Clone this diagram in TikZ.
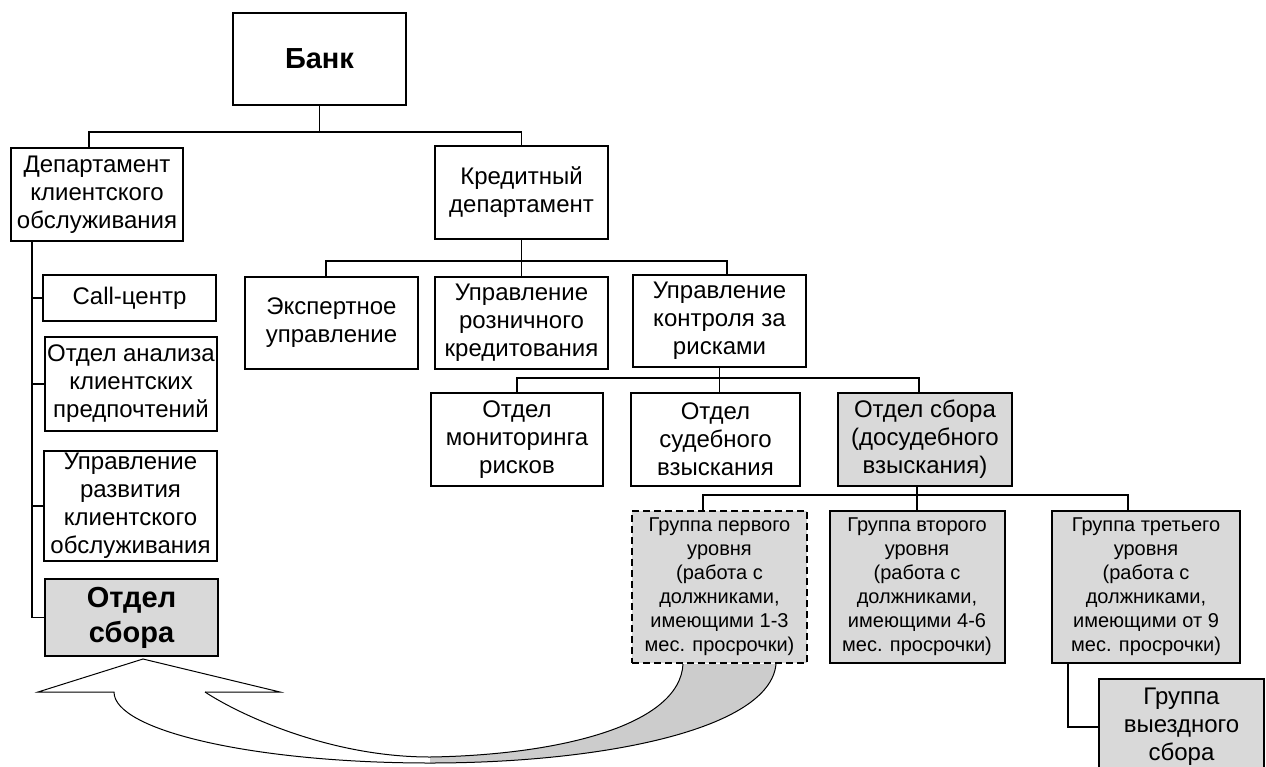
\documentclass[tikz,border=0pt]{standalone}
\usepackage{fontspec}
\setmainfont{Liberation Sans}
\usepackage{tikz}
\definecolor{boxgray}{gray}{0.85}
\definecolor{tailgray}{gray}{0.8}
\def\orgnormal{\fontsize{24}{28}\selectfont}
\def\orgsmall{\fontsize{20}{24}\selectfont}
\def\orgbold{\fontsize{29}{35}\selectfont\bfseries}

\begin{document}
\begin{tikzpicture}[x=1pt,y=-1pt,
	orgbox/.style 2 args={draw,line width=2pt,align=center,inner sep=0pt,
		minimum width=#1,minimum height=#2,font=\orgnormal},
	grayfill/.style={fill=boxgray},
	link/.style={line width=1.5pt},
	arrowline/.style={line width=1pt}]
	\useasboundingbox (0,0) rectangle (1266,766);
	\clip (0,0) rectangle (1266,766);
	
	\node[orgbox={173}{92},font=\orgbold] (bank) at (319.5,59) {Банк};
	\node[orgbox={172}{93}] (clientdep) at (97,194.5) {Департамент\\клиентского\\обслуживания};
	\node[orgbox={173}{93}] (creditdep) at (521.5,192.5) {Кредитный\\департамент};
	
	\node[orgbox={173}{46}] (callc)  at (129.5,298) {Call-центр};
	\node[orgbox={172}{94}] (analiz) at (131,384)   {Отдел анализа\\клиентских\\предпочтений};
	\node[orgbox={173}{110}] (razv)  at (130.5,506) {Управление\\развития\\клиентского\\обслуживания};
	\node[orgbox={173}{77},grayfill,font=\orgbold] (sborL) at (131.5,617.5) {Отдел\\сбора};
	
	\node[orgbox={173}{92}] (expert)  at (331.5,323) {Экспертное\\управление};
	\node[orgbox={173}{92}] (rozn)    at (521.5,323) {Управление\\розничного\\кредитования};
	\node[orgbox={173}{92}] (kontrol) at (719.5,321) {Управление\\контроля за\\рисками};
	
	\node[orgbox={172}{93}] (monit) at (517,439.5)   {Отдел\\мониторинга\\рисков};
	\node[orgbox={169}{93}] (sud)   at (715.5,439.5) {Отдел\\судебного\\взыскания};
	\node[orgbox={174}{93},grayfill] (sborR) at (925,439.5) {Отдел сбора\\(досудебного\\взыскания)};
	
	\node[orgbox={175}{152},grayfill,font=\orgsmall,dash pattern=on 7pt off 4pt] (grp1) at (719.5,587)
		{Группа первого\\уровня\\(работа с\\должниками,\\имеющими 1-3\\мес. просрочки)};
	\node[orgbox={175}{152},grayfill,font=\orgsmall] (grp2) at (917,587)
		{Группа второго\\уровня\\(работа с\\должниками,\\имеющими 4-6\\мес. просрочки)};
	\node[orgbox={188}{152},grayfill,font=\orgsmall] (grp3) at (1146,587)
		{Группа третьего\\уровня\\(работа с\\должниками,\\имеющими от 9\\мес. просрочки)};
	\node[orgbox={165}{96},grayfill] (grpvyezd) at (1181.5,727) {Группа\\выездного\\сбора};
	
	\path (bank.south) ++(0,26) coordinate (bankbus);
	\draw[link] (bank.south) -- (bankbus);
	\draw[link] ([xshift=-8pt]clientdep.north) |- (bankbus) -| (creditdep.north);
	
	\path ([xshift=-65pt]clientdep.south) coordinate (clientbus);
	\foreach \n in {callc,analiz,razv,sborL}
		\draw[link] (clientbus) |- (\n.west);
	
	\path (creditdep.south) ++(0,21) coordinate (creditbus);
	\draw[link] (creditdep.south) -- (rozn.north);
	\draw[link] ([xshift=-5.5pt]expert.north) |- (creditbus) -| ([xshift=7.5pt]kontrol.north);
	
	\path (kontrol.south) ++(0,10) coordinate (kontrolbus);
	\draw[link] (kontrol.south) -- (kontrol.south |- sud.north);
	\draw[link] (monit.north) |- (kontrolbus) -| ([xshift=-6pt]sborR.north);
	
	\path ([xshift=-8pt]sborR.south) ++(0,8) coordinate (sborbus);
	\draw[link] ([xshift=-8pt]sborR.south) -- (grp2.north);
	\draw[link] ([xshift=-16.5pt]grp1.north) |- (sborbus) -| ([xshift=-18pt]grp3.north);
	
	\draw[link] ([xshift=-78pt]grp3.south) |- (grpvyezd.west);
	
	\coordinate (tip)  at ([xshift=11.5pt,yshift=-2pt]sborL.south);
	\coordinate (tin)  at ([xshift=-36.5pt]grp1.south);
	\coordinate (tout) at ([xshift=56.5pt]grp1.south);
	\fill[tailgray] (tin) .. controls (680,725) and (560,755) .. (430,757)
		-- (430,763) .. controls (600,763) and (770,730) .. (tout) -- cycle;
	\draw[arrowline] (205,692) -- (280,692) -- (tip) -- (38,692) -- (114,692)
		.. controls (114,731) and (256,763) .. (430,763)
		.. controls (600,763) and (770,730) .. (tout);
	\draw[arrowline] (205,692) .. controls (240,715) and (330,757) .. (430,757)
		.. controls (560,755) and (680,725) .. (tin);
\end{tikzpicture}
\end{document}
